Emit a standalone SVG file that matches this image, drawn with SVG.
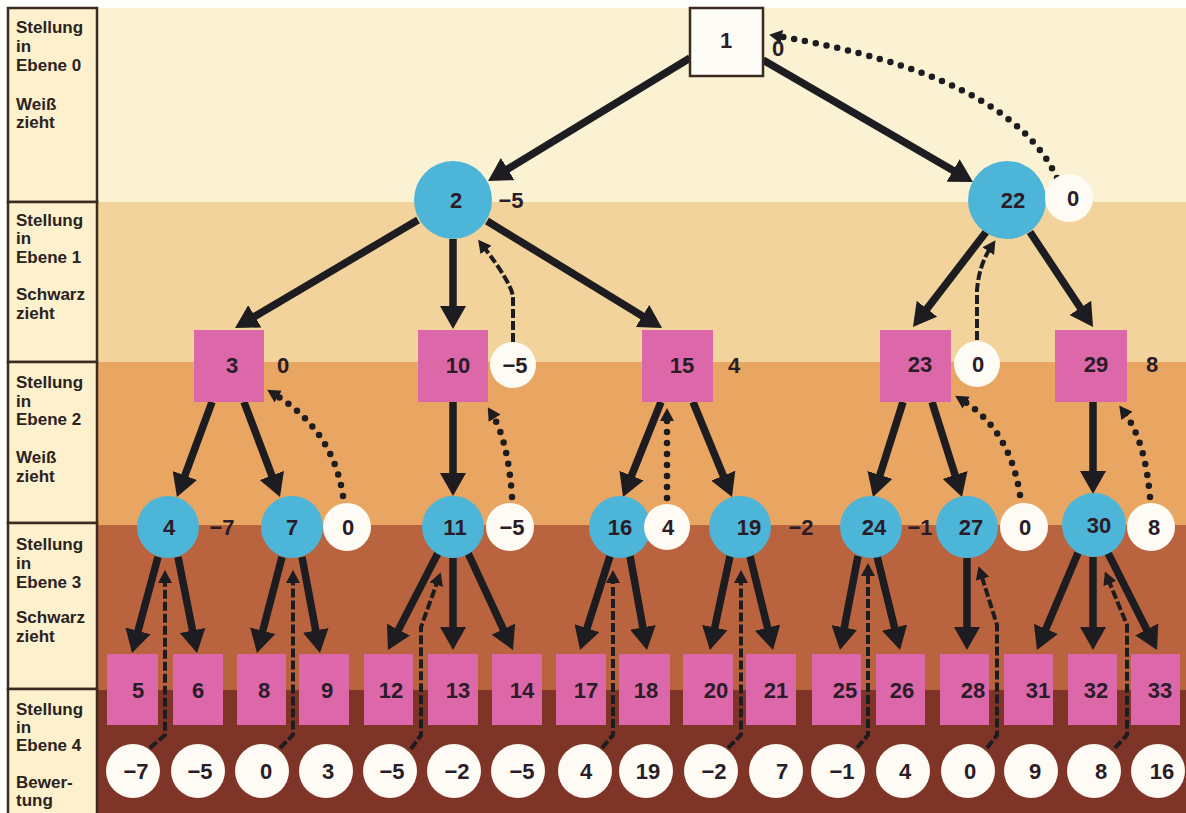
<svg xmlns="http://www.w3.org/2000/svg" width="1186" height="813" viewBox="0 0 1186 813">
  <defs>
    <style>
      .lbl{font:bold 17px "Liberation Sans",Arial,sans-serif;fill:#2b221e}
      .num{font:bold 22px "Liberation Sans",Arial,sans-serif;fill:#2a1c28;text-anchor:middle}
      .blue{fill:#4db5d7}
      .pink{fill:#dc68aa}
      .val{fill:#fdfbf4}
      .solid{fill:none;stroke:#1d1c20;stroke-width:7.5;marker-end:url(#ah)}
      .dash{fill:none;stroke:#1d1c20;stroke-width:4;stroke-dasharray:9 3;marker-end:url(#ahs)}
      .dot{fill:none;stroke:#1d1c20;stroke-width:6.5;stroke-dasharray:0 11;stroke-linecap:round;marker-end:url(#ahs)}
    </style>
    <marker id="ah" viewBox="0 0 23 26" markerWidth="23" markerHeight="26" refX="9" refY="13" orient="auto" markerUnits="userSpaceOnUse">
      <path d="M0,0 L23,13 L0,26 Z" fill="#1d1c20"/>
    </marker>
    <marker id="ahs" viewBox="0 0 13 14" markerWidth="13" markerHeight="14" refX="5" refY="7" orient="auto" markerUnits="userSpaceOnUse">
      <path d="M0,0 L13,7 L0,14 Z" fill="#1d1c20"/>
    </marker>
  </defs>

  <!-- background bands, one per level -->
  <rect x="0" y="0" width="1186" height="813" fill="#fefefc"/>
  <rect x="97" y="8" width="1089" height="194" fill="#fbf1d3"/>
  <rect x="97" y="202" width="1089" height="160" fill="#f2d39b"/>
  <rect x="97" y="362" width="1089" height="163" fill="#e9a662"/>
  <rect x="97" y="525" width="1089" height="165" fill="#b9643f"/>
  <rect x="97" y="690" width="1089" height="123" fill="#7e3527"/>

  <!-- level legend column -->
  <g id="legend">
    <rect x="8" y="8" width="89" height="194" fill="#fcf0cd" stroke="#3a2a20" stroke-width="2.5"/>
    <rect x="8" y="202" width="89" height="160" fill="#fcf0cd" stroke="#3a2a20" stroke-width="2.5"/>
    <rect x="8" y="362" width="89" height="161" fill="#fcf0cd" stroke="#3a2a20" stroke-width="2.5"/>
    <rect x="8" y="523" width="89" height="166" fill="#fcf0cd" stroke="#3a2a20" stroke-width="2.5"/>
    <rect x="8" y="689" width="89" height="130" fill="#fcf0cd" stroke="#3a2a20" stroke-width="2.5"/>
    <text class="lbl" x="16" y="33">Stellung</text>
    <text class="lbl" x="16" y="52">in</text>
    <text class="lbl" x="16" y="71">Ebene 0</text>
    <text class="lbl" x="16" y="110">Weiß</text>
    <text class="lbl" x="16" y="128">zieht</text>
    <text class="lbl" x="16" y="226">Stellung</text>
    <text class="lbl" x="16" y="244">in</text>
    <text class="lbl" x="16" y="263">Ebene 1</text>
    <text class="lbl" x="16" y="300">Schwarz</text>
    <text class="lbl" x="16" y="319">zieht</text>
    <text class="lbl" x="16" y="388">Stellung</text>
    <text class="lbl" x="16" y="407">in</text>
    <text class="lbl" x="16" y="425">Ebene 2</text>
    <text class="lbl" x="16" y="463">Weiß</text>
    <text class="lbl" x="16" y="482">zieht</text>
    <text class="lbl" x="16" y="550">Stellung</text>
    <text class="lbl" x="16" y="569">in</text>
    <text class="lbl" x="16" y="588">Ebene 3</text>
    <text class="lbl" x="16" y="623">Schwarz</text>
    <text class="lbl" x="16" y="642">zieht</text>
    <text class="lbl" x="16" y="715">Stellung</text>
    <text class="lbl" x="16" y="733">in</text>
    <text class="lbl" x="16" y="751">Ebene 4</text>
    <text class="lbl" x="16" y="788">Bewer-</text>
    <text class="lbl" x="16" y="806">tung</text>
  </g>

  <!-- moves (solid) and backed-up values (dashed / dotted) -->
  <g id="connectors">
    <line class="solid" x1="690" y1="58" x2="500" y2="173.7"/>
    <line class="solid" x1="763" y1="60" x2="960.9" y2="175"/>
    <line class="solid" x1="418" y1="220" x2="247.1" y2="320.9"/>
    <line class="solid" x1="453" y1="239" x2="453" y2="315"/>
    <line class="solid" x1="487" y1="221" x2="650.1" y2="320.7"/>
    <line class="solid" x1="986" y1="232" x2="921.5" y2="315.9"/>
    <line class="solid" x1="1030" y1="232" x2="1085.3" y2="315.3"/>
    <line class="solid" x1="212" y1="402" x2="181.8" y2="483.9"/>
    <line class="solid" x1="244" y1="402" x2="275" y2="483.9"/>
    <line class="solid" x1="453" y1="402" x2="453" y2="482"/>
    <line class="solid" x1="661" y1="402" x2="628.2" y2="484"/>
    <line class="solid" x1="693" y1="402" x2="726.7" y2="484"/>
    <line class="solid" x1="903" y1="402" x2="877.2" y2="483.6"/>
    <line class="solid" x1="932" y1="402" x2="957.8" y2="483.6"/>
    <line class="solid" x1="1093" y1="402" x2="1093" y2="480"/>
    <line class="solid" x1="158" y1="557" x2="135.7" y2="639.5"/>
    <line class="solid" x1="178" y1="557" x2="194.3" y2="639.3"/>
    <line class="solid" x1="282" y1="557" x2="260.5" y2="639.4"/>
    <line class="solid" x1="302" y1="557" x2="317.4" y2="639.2"/>
    <line class="solid" x1="438" y1="553" x2="394.4" y2="637.6"/>
    <line class="solid" x1="453" y1="558" x2="453" y2="636"/>
    <line class="solid" x1="468" y1="553" x2="507.1" y2="637.3"/>
    <line class="solid" x1="610" y1="556" x2="584.3" y2="636.7"/>
    <line class="solid" x1="630" y1="556" x2="644.5" y2="636.2"/>
    <line class="solid" x1="730" y1="556" x2="712.9" y2="636.3"/>
    <line class="solid" x1="750" y1="556" x2="769.7" y2="636.4"/>
    <line class="solid" x1="858" y1="556" x2="842.6" y2="636.3"/>
    <line class="solid" x1="877" y1="556" x2="896.7" y2="636.4"/>
    <line class="solid" x1="967" y1="558" x2="967" y2="636"/>
    <line class="solid" x1="1078" y1="553" x2="1042.4" y2="637.1"/>
    <line class="solid" x1="1093" y1="557" x2="1093" y2="636"/>
    <line class="solid" x1="1108" y1="553" x2="1150.7" y2="637.5"/>

    <path class="dot" d="M1057,178 Q1010,75 777,36"/>
    <path class="dot" d="M343,496 Q333,430 274,394"/>
    <path class="dot" d="M512,497 Q508,440 492,414"/>
    <path class="dot" d="M667,498 L667,416"/>
    <path class="dot" d="M1020,495 Q1010,430 962,400"/>
    <path class="dot" d="M1150,497 Q1145,440 1124,412"/>

    <path class="dash" d="M513,342 L513,298 Q513,285 483,246"/>
    <path class="dash" d="M977,340 L977,290 Q979,265 991,247"/>
    <path class="dash" d="M150,748 L165,735 L165,578"/>
    <path class="dash" d="M280,748 L293,735 L293,578"/>
    <path class="dash" d="M411,749 L421,735 L421,627 L438,580"/>
    <path class="dash" d="M602,748 L613,735 L613,578"/>
    <path class="dash" d="M728,748 L741,735 L741,578"/>
    <path class="dash" d="M857,748 L868,735 L868,571"/>
    <path class="dash" d="M987,748 L997,735 L997,625 L981,574"/>
    <path class="dash" d="M1115,748 L1127,735 L1127,625 L1108,579"/>
  </g>

  <!-- level 0 -->
  <g id="n1"><rect x="690" y="8" width="73" height="68" fill="#fefcf6" stroke="#3a2a20" stroke-width="2.5"/><text class="num" x="726" y="48">1</text><text class="num" x="778" y="56">0</text></g>

  <!-- level 1 -->
  <g id="n2"><circle class="blue" cx="453" cy="200" r="39"/><text class="num" x="456" y="208">2</text><text class="num" x="511" y="208">−5</text></g>
  <g id="n22"><circle class="blue" cx="1007" cy="200" r="39"/><circle class="val" cx="1069" cy="198" r="24"/><text class="num" x="1013" y="208">22</text><text class="num" x="1073" y="206">0</text></g>

  <!-- level 2 -->
  <g id="n3"><rect class="pink" x="194" y="330" width="70" height="72"/><text class="num" x="232" y="373">3</text><text class="num" x="283" y="373">0</text></g>
  <g id="n10"><rect class="pink" x="418" y="330" width="70" height="72"/><circle class="val" cx="513" cy="365" r="23"/><text class="num" x="458" y="373">10</text><text class="num" x="515" y="373">−5</text></g>
  <g id="n15"><rect class="pink" x="642" y="330" width="71" height="72"/><text class="num" x="682" y="373">15</text><text class="num" x="734" y="373">4</text></g>
  <g id="n23"><rect class="pink" x="880" y="330" width="71" height="72"/><circle class="val" cx="977" cy="364" r="23"/><text class="num" x="920" y="372">23</text><text class="num" x="978" y="372">0</text></g>
  <g id="n29"><rect class="pink" x="1055" y="330" width="72" height="72"/><text class="num" x="1096" y="372">29</text><text class="num" x="1152" y="372">8</text></g>

  <!-- level 3 -->
  <g id="n4"><circle class="blue" cx="168" cy="527" r="31"/><text class="num" x="169" y="535">4</text><text class="num" x="222" y="535">−7</text></g>
  <g id="n7"><circle class="blue" cx="292" cy="527" r="31"/><circle class="val" cx="347" cy="527" r="24"/><text class="num" x="292" y="535">7</text><text class="num" x="348" y="535">0</text></g>
  <g id="n11"><circle class="blue" cx="453" cy="527" r="31"/><circle class="val" cx="510" cy="527" r="24"/><text class="num" x="455" y="535">11</text><text class="num" x="512" y="535">−5</text></g>
  <g id="n16"><circle class="blue" cx="620" cy="527" r="31"/><circle class="val" cx="667" cy="527" r="23"/><text class="num" x="620" y="535">16</text><text class="num" x="668" y="535">4</text></g>
  <g id="n19"><circle class="blue" cx="740" cy="527" r="31"/><text class="num" x="749" y="535">19</text><text class="num" x="801" y="535">−2</text></g>
  <g id="n24"><circle class="blue" cx="871" cy="527" r="31"/><text class="num" x="874" y="535">24</text><text class="num" x="920" y="535">−1</text></g>
  <g id="n27"><circle class="blue" cx="967" cy="527" r="31"/><circle class="val" cx="1024" cy="527" r="24"/><text class="num" x="971" y="535">27</text><text class="num" x="1025" y="535">0</text></g>
  <g id="n30"><circle class="blue" cx="1094" cy="525" r="32"/><circle class="val" cx="1151" cy="527" r="24"/><text class="num" x="1099" y="533">30</text><text class="num" x="1154" y="535">8</text></g>

  <!-- level 4 leaves with evaluations -->
  <g id="n5"><rect class="pink" x="107" y="654" width="51" height="71"/><circle class="val" cx="133" cy="771" r="27"/><text class="num" x="138" y="698">5</text><text class="num" x="136" y="779">−7</text></g>
  <g id="n6"><rect class="pink" x="173" y="654" width="50" height="71"/><circle class="val" cx="198" cy="771" r="27"/><text class="num" x="198" y="698">6</text><text class="num" x="200" y="779">−5</text></g>
  <g id="n8"><rect class="pink" x="237" y="654" width="49" height="71"/><circle class="val" cx="262" cy="771" r="27"/><text class="num" x="264" y="698">8</text><text class="num" x="266" y="779">0</text></g>
  <g id="n9"><rect class="pink" x="299" y="654" width="50" height="71"/><circle class="val" cx="326" cy="771" r="27"/><text class="num" x="327" y="698">9</text><text class="num" x="328" y="779">3</text></g>
  <g id="n12"><rect class="pink" x="364" y="654" width="49" height="71"/><circle class="val" cx="390" cy="771" r="27"/><text class="num" x="391" y="698">12</text><text class="num" x="392" y="779">−5</text></g>
  <g id="n13"><rect class="pink" x="428" y="654" width="50" height="71"/><circle class="val" cx="454" cy="771" r="27"/><text class="num" x="458" y="698">13</text><text class="num" x="457" y="779">−2</text></g>
  <g id="n14"><rect class="pink" x="492" y="654" width="50" height="71"/><circle class="val" cx="518" cy="771" r="27"/><text class="num" x="522" y="698">14</text><text class="num" x="522" y="779">−5</text></g>
  <g id="n17"><rect class="pink" x="556" y="654" width="50" height="71"/><circle class="val" cx="585" cy="771" r="27"/><text class="num" x="586" y="698">17</text><text class="num" x="586" y="779">4</text></g>
  <g id="n18"><rect class="pink" x="619" y="654" width="51" height="71"/><circle class="val" cx="646" cy="771" r="27"/><text class="num" x="646" y="698">18</text><text class="num" x="648" y="779">19</text></g>
  <g id="n20"><rect class="pink" x="683" y="654" width="50" height="71"/><circle class="val" cx="711" cy="771" r="27"/><text class="num" x="716" y="698">20</text><text class="num" x="714" y="779">−2</text></g>
  <g id="n21"><rect class="pink" x="746" y="654" width="50" height="71"/><circle class="val" cx="776" cy="771" r="27"/><text class="num" x="776" y="698">21</text><text class="num" x="782" y="779">7</text></g>
  <g id="n25"><rect class="pink" x="812" y="654" width="49" height="71"/><circle class="val" cx="838" cy="771" r="27"/><text class="num" x="845" y="698">25</text><text class="num" x="842" y="779">−1</text></g>
  <g id="n26"><rect class="pink" x="876" y="654" width="49" height="71"/><circle class="val" cx="903" cy="771" r="27"/><text class="num" x="902" y="698">26</text><text class="num" x="905" y="779">4</text></g>
  <g id="n28"><rect class="pink" x="940" y="654" width="49" height="71"/><circle class="val" cx="968" cy="771" r="27"/><text class="num" x="973" y="698">28</text><text class="num" x="970" y="779">0</text></g>
  <g id="n31"><rect class="pink" x="1004" y="654" width="49" height="71"/><circle class="val" cx="1031" cy="771" r="27"/><text class="num" x="1038" y="698">31</text><text class="num" x="1035" y="779">9</text></g>
  <g id="n32"><rect class="pink" x="1068" y="654" width="49" height="71"/><circle class="val" cx="1094" cy="771" r="27"/><text class="num" x="1096" y="698">32</text><text class="num" x="1101" y="779">8</text></g>
  <g id="n33"><rect class="pink" x="1131" y="654" width="49" height="71"/><circle class="val" cx="1158" cy="771" r="27"/><text class="num" x="1160" y="698">33</text><text class="num" x="1162" y="779">16</text></g>
</svg>
